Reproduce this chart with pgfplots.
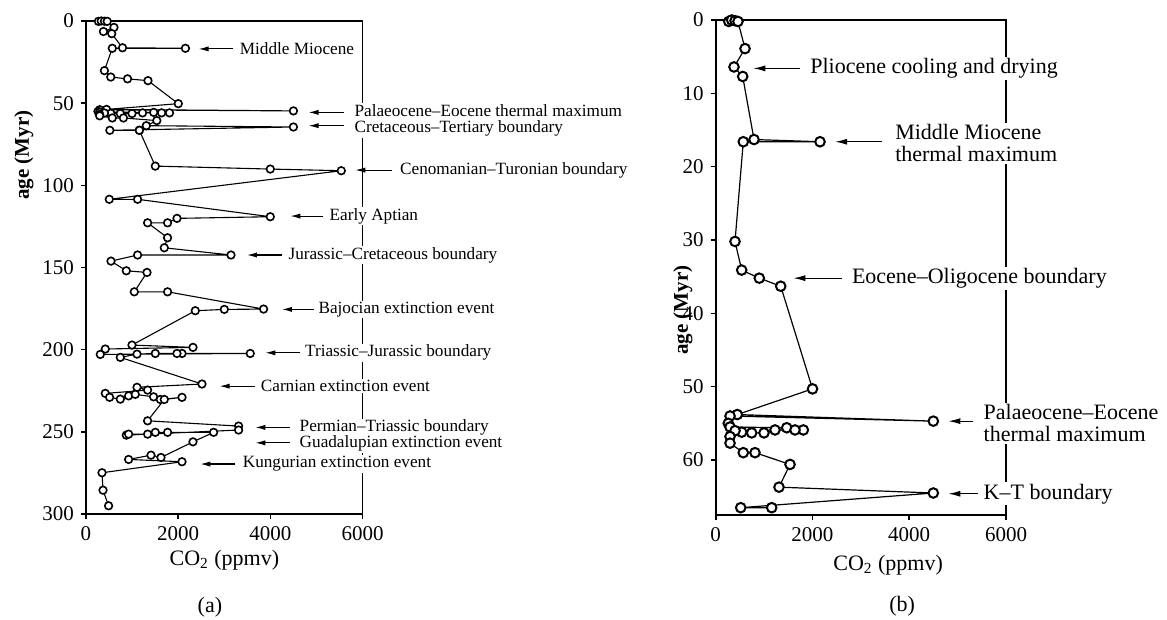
\documentclass[border=0pt]{standalone}
\usepackage{fontspec}
\setmainfont{Liberation Serif}
\usepackage{pgfplots}
\pgfplotsset{compat=1.18}
\usepackage{pgfplotstable}
\usetikzlibrary{arrows.meta}

% ages 0 - 66.5 Myr (shared by both panels)
\pgfplotstableread{
x y
270 0.2
330 0.0
400 0.1
460 0.2
606 3.9
378 6.4
558 7.7
792 16.3
2156 16.6
570 16.6
399 30.2
537 34.1
901 35.2
1344 36.3
2001 50.3
446 53.8
4498 54.7
296 54.0
260 55.0
296 55.5
1468 55.6
1811 55.9
1639 55.9
1226 55.9
998 56.3
744 56.3
537 56.2
400 56.0
296 56.8
296 57.7
570 59.0
812 59.0
1536 60.6
1308 63.7
4498 64.5
517 66.5
1157 66.5
}\tabYoung

% ages 66.5 - 300 Myr (panel a)
\pgfplotstableread{
x y
1157 66.5
1503 88.3
3996 90.1
5536 91.1
505 108.5
1119 108.5
3996 119.1
1973 120.1
1769 122.8
1336 122.8
1769 131.9
1698 138.0
3144 142.4
1119 142.4
542 146.1
874 152.0
1323 153.0
1047 164.8
1769 164.8
3851 175.3
2999 175.5
2370 176.3
997 197.2
2320 198.6
418 199.6
310 202.9
3562 202.3
2082 202.3
1973 202.3
1503 202.3
1106 202.7
744 204.7
2515 220.9
1106 222.9
1336 224.6
418 226.6
512 229.0
744 230.1
924 228.1
1069 227.2
1466 228.7
1611 230.3
2082 229.0
1698 230.3
1336 243.3
3309 246.5
3309 248.9
874 252.0
924 251.4
1336 251.4
1503 250.3
1769 250.3
2767 250.3
2320 256.1
1626 265.6
1409 264.2
924 266.8
2082 268.2
347 274.9
369 285.5
490 295.0
}\tabOld

\pgfplotsset{
  common/.style={
    scale only axis, y dir=reverse, clip=false,
    xmin=0, xmax=6000, xtick={0,2000,4000,6000},
    tick align=outside, tick pos=left, major tick length=2.5pt,
    axis line style={line width=0.8pt},
    every tick/.style={line width=0.8pt, black},
    tick label style={font=\fontsize{10.5}{12}\selectfont},
    /pgf/number format/assume math mode=true,
    /pgf/number format/1000 sep={},
    xlabel={CO\textsubscript{2} (ppmv)},
    xlabel style={font=\fontsize{11}{13}\selectfont, anchor=center},
    ylabel={age (Myr)},
    ylabel style={font=\fontsize{10.5}{12}\selectfont\bfseries, anchor=center},
  }
}

\begin{document}
\begin{tikzpicture}
\useasboundingbox (0,0) rectangle (583.5pt,-310pt);

% ---------------- panel (a)
\begin{axis}[common, at={(43pt,-10.5pt)}, anchor=north west,
  width=138.35pt, height=246.5pt,
  ymin=0, ymax=300, ytick={0,50,...,300},
  xlabel style={at={(axis description cs:0.5,-0.093)}},
  ylabel style={at={(axis description cs:-0.224,0.728)}},
]
\addplot[black, line width=0.55pt, mark=*, mark size=1.9pt,
  mark options={fill=white, draw=black, line width=0.8pt, solid}] table[x=x,y=y] {\tabYoung};
\addplot[black, line width=0.55pt, mark=*, mark size=1.9pt,
  mark options={fill=white, draw=black, line width=0.8pt, solid}] table[x=x,y=y] {\tabOld};

\tikzset{arrA/.style={-{Latex[length=5pt,width=2.6pt]}, line width=0.55pt},
         labA/.style={anchor=west, fill=white, inner sep=0.6pt, font=\fontsize{8.6}{8.3}\selectfont, align=left}}
\draw[arrA] (axis cs:3194,17.0) -- (axis cs:2441,17.0);
\node[labA] at (axis cs:3302,17.0) {Middle Miocene};
\draw[arrA] (axis cs:5585,55.6) -- (axis cs:4826,55.6);
\draw[arrA] (axis cs:5585,63.7) -- (axis cs:4826,63.7);
\node[labA] at (axis cs:5789,60.4) {Palaeocene--Eocene thermal maximum\\Cretaceous--Tertiary boundary};
\draw[arrA] (axis cs:6635,90.7) -- (axis cs:5839,90.7);
\node[labA] at (axis cs:6778,90.7) {Cenomanian--Turonian boundary};
\draw[arrA] (axis cs:5145,118.7) -- (axis cs:4430,118.7);
\node[labA] at (axis cs:5250,118.7) {Early Aptian};
\draw[arrA] (axis cs:4250,142.4) -- (axis cs:3491,142.4);
\node[labA] at (axis cs:4358,142.4) {Jurassic--Cretaceous boundary};
\draw[arrA] (axis cs:4935,175.5) -- (axis cs:4250,175.5);
\node[labA] at (axis cs:5009,175.5) {Bajocian extinction event};
\draw[arrA] (axis cs:4647,201.9) -- (axis cs:3888,201.9);
\node[labA] at (axis cs:4718,201.9) {Triassic--Jurassic boundary};
\draw[arrA] (axis cs:3671,222.2) -- (axis cs:2897,222.2);
\node[labA] at (axis cs:3758,222.2) {Carnian extinction event};
\draw[arrA] (axis cs:4430,247.3) -- (axis cs:3671,247.3);
\draw[arrA] (axis cs:4430,256.7) -- (axis cs:3671,256.7);
\node[labA, font={\fontsize{8.6}{8.0}\selectfont\lineskiplimit=-5pt}] at (axis cs:4600,252.3) {Permian--Triassic boundary\\Guadalupian extinction event};
\draw[arrA] (axis cs:3237,269.6) -- (axis cs:2478,269.6);
\node[labA] at (axis cs:3367,269.6) {Kungurian extinction event};

\node[font=\fontsize{11}{13}\selectfont] at (axis description cs:0.448,-0.189) {(a)};
\end{axis}

% ---------------- panel (b)
\begin{axis}[common, at={(357.85pt,-10pt)}, anchor=north west,
  width=145.15pt, height=247.5pt,
  ymin=0, ymax=67.5, ytick={0,10,...,60},
  xlabel style={at={(axis description cs:0.594,-0.101)}},
  ylabel style={at={(axis description cs:-0.113,0.414)}},
]
\addplot[black, line width=0.6pt, mark=*, mark size=2.4pt,
  mark options={fill=white, draw=black, line width=1pt, solid}] table[x=x,y=y] {\tabYoung};

\tikzset{arrB/.style={-{Latex[length=6pt,width=3pt]}, line width=0.6pt},
         labB/.style={anchor=west, fill=white, inner sep=0.8pt, font=\fontsize{11}{11}\selectfont, align=left}}
\draw[arrB] (axis cs:1742,6.6) -- (axis cs:777,6.6);
\node[labB] at (axis cs:1914,6.6) {Pliocene cooling and drying};
\draw[arrB] (axis cs:3431,16.6) -- (axis cs:2466,16.6);
\node[labB] at (axis cs:3670,16.8) {Middle Miocene\\thermal maximum};
\draw[arrB] (axis cs:2604,35.2) -- (axis cs:1604,35.2);
\node[labB] at (axis cs:2776,35.2) {Eocene--Oligocene boundary};
\draw[arrB] (axis cs:5325,54.7) -- (axis cs:4808,54.7);
\node[labB] at (axis cs:5498,55.0) {Palaeocene--Eocene\\thermal maximum};
\draw[arrB] (axis cs:5428,64.6) -- (axis cs:4808,64.6);
\node[labB] at (axis cs:5498,64.6) {K--T boundary};

\node[font=\fontsize{11}{13}\selectfont] at (axis description cs:0.642,-0.184) {(b)};
\end{axis}
\end{tikzpicture}
\end{document}
